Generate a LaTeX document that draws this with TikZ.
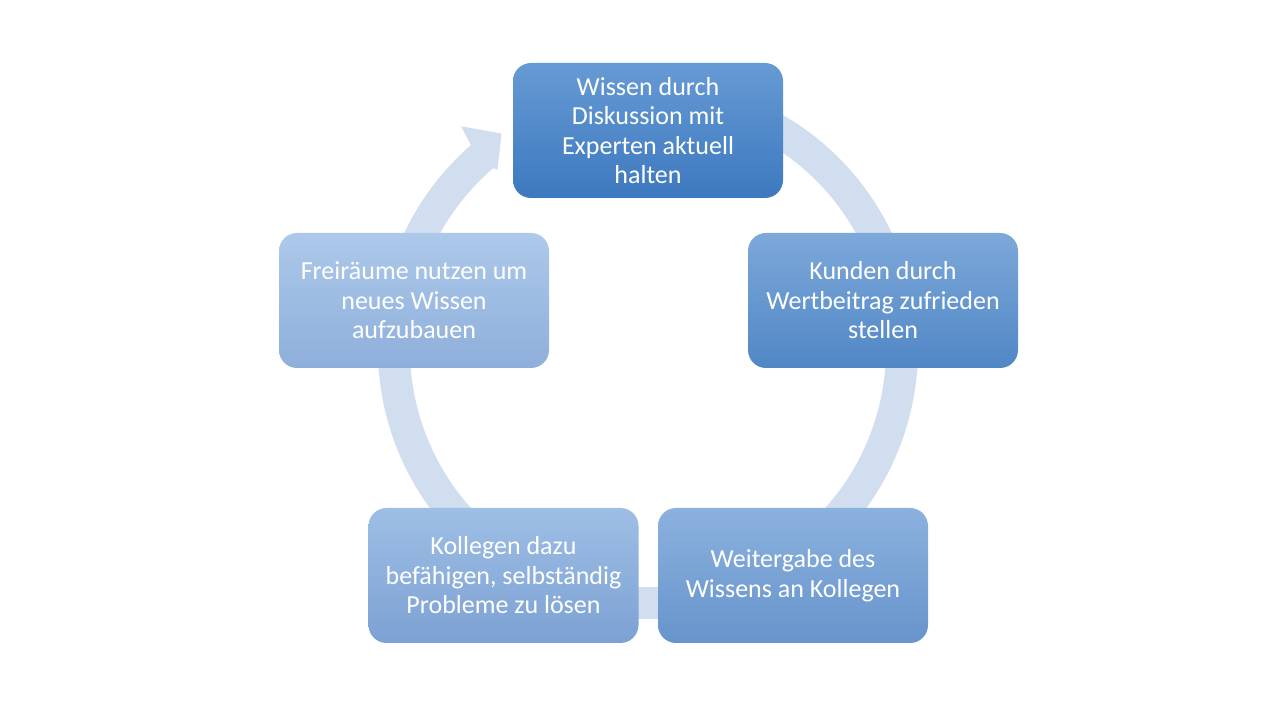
\documentclass[tikz,border=0pt]{standalone}
\usepackage{fontspec}
\setmainfont{Carlito}
\usepackage{tikz}
\usepackage{xcolor}
\usetikzlibrary{arrows,shapes,positioning}

\definecolor{ringblue}{HTML}{D1DEEF}
\definecolor{topA}{HTML}{669AD4}
\definecolor{topB}{HTML}{3D79BF}
\definecolor{rightA}{HTML}{7DA8DA}
\definecolor{rightB}{HTML}{5087C5}
\definecolor{brA}{HTML}{8BB1DE}
\definecolor{brB}{HTML}{6794CC}
\definecolor{blA}{HTML}{9EBEE5}
\definecolor{blB}{HTML}{7CA1D3}
\definecolor{leftA}{HTML}{ADC9EA}
\definecolor{leftB}{HTML}{8EAFDB}

\tikzset{
  cyclebox/.style={rectangle, rounded corners=18pt, minimum width=270pt, minimum height=135pt,
    inner sep=0pt, align=center, text=white, font=\fontsize{26}{29.5}\selectfont},
  ring/.style={draw=ringblue, line width=32pt}
}

\begin{document}
\begin{tikzpicture}[x=1pt, y=1pt]

\useasboundingbox [fill=white] (0,0) rectangle (1280,720);

\coordinate (c) at (648,371);
\coordinate (barbout) at (462,593);
\coordinate (tip) at (501,586);
\coordinate (barbin) at (497,551);
\coordinate (back) at (481,557);

\draw [ring] (c) ++(75:254) arc[start angle=75, end angle=-229.5, radius=254];
\filldraw [ringblue, line width=1pt] (barbout) -- (tip) -- (barbin) -- (back) -- cycle;

\node [cyclebox, top color=topA, bottom color=topB] (wissen) at (648,589.5) {Wissen durch\\Diskussion mit\\Experten aktuell\\halten};

\node [cyclebox, top color=rightA, bottom color=rightB] (kunden) at (883,419.5) {Kunden durch\\Wertbeitrag zufrieden\\stellen};

\node [cyclebox, top color=brA, bottom color=brB] (weitergabe) at (793,144.5) {Weitergabe des\\Wissens an Kollegen};

\node [cyclebox, top color=blA, bottom color=blB] (kollegen) at (503.5,144.5) {Kollegen dazu\\befähigen, selbständig\\Probleme zu lösen};

\node [cyclebox, top color=leftA, bottom color=leftB] (freiraeume) at (414,419.5) {Freiräume nutzen um\\neues Wissen\\aufzubauen};

\end{tikzpicture}
\end{document}
